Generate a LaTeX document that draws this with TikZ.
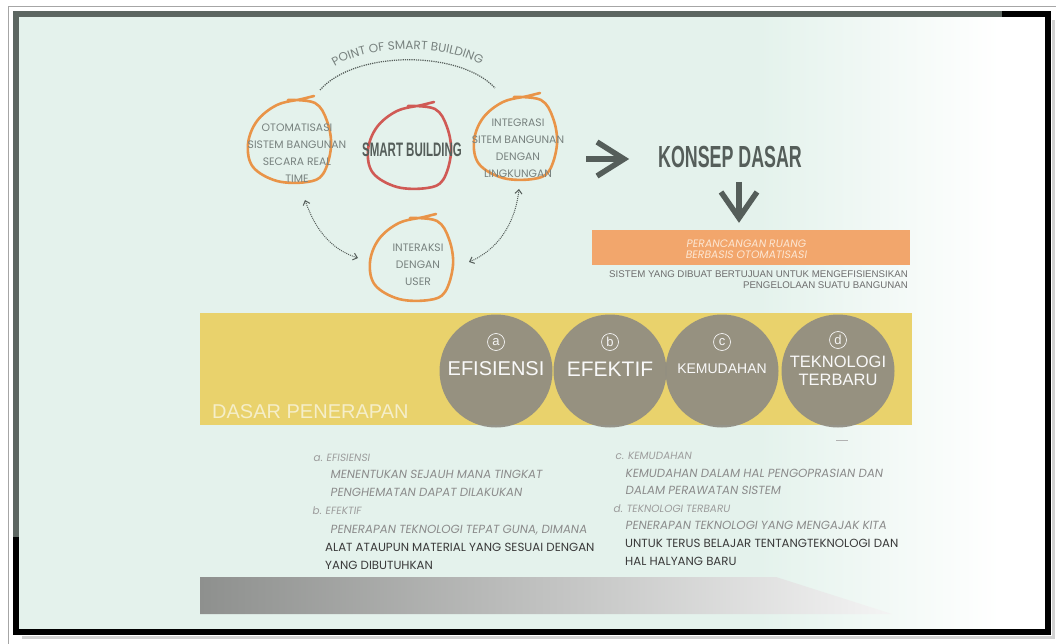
\documentclass[tikz,border=0pt]{standalone}
\usepackage{fontspec}
\usepackage{graphicx}
\setmainfont{Liberation Sans}
\newfontfamily\hand{Poppins}
\newfontfamily\handsl[FakeSlant=0.15]{Poppins}
\usetikzlibrary{arrows.meta,decorations.text}
\definecolor{mint}{HTML}{E4F2EC}
\definecolor{frameg}{HTML}{5C6661}
\definecolor{loopor}{HTML}{E99448}
\definecolor{loopred}{HTML}{D05A55}
\definecolor{looptxt}{HTML}{78827F}
\definecolor{dk}{HTML}{555E5A}
\definecolor{bandor}{HTML}{F2A66C}
\definecolor{bandtxt}{HTML}{FCE6D2}
\definecolor{yel}{HTML}{E9D26C}
\definecolor{gcirc}{HTML}{8F8C82}
\definecolor{cream}{HTML}{F5EEC9}
\definecolor{txtg}{HTML}{8C8C8C}
\definecolor{txtd}{HTML}{3A3A3A}
\definecolor{sysg}{HTML}{6E6E6E}
\definecolor{barL}{HTML}{8E908E}
\definecolor{barM}{HTML}{A9AAA8}
\definecolor{barR}{HTML}{F4F4F4}
\begin{document}
\begin{tikzpicture}[x=1pt,y=-1pt,
  handloop/.pic={\draw[line width=2.6pt,line cap=round,line join=round,pic actions]
     plot[smooth,tension=0.6] coordinates {(-2,-42) (25,-39) (37,-21) (41,5) (33,32) (17,40) (-13,39) (-37,25) (-42,2) (-33,-21) (-13,-37) (12,-43) (24,-46)};},
  looptext/.style={font=\hand\fontsize{10.8}{17}\selectfont,align=center,text=looptxt,inner sep=0pt},
  dotarrow/.style={densely dotted,line width=1pt,draw=dk,{Straight Barb[length=4pt,width=7pt]}-{Straight Barb[length=4pt,width=7pt]}},
  bigarr/.style={line width=5.5pt,draw=dk,line join=miter},
  gc/.style={circle,fill=gcirc,fill opacity=0.92,minimum size=113pt,inner sep=0pt},
  glab/.style={circle,draw=white!92!gray,line width=0.7pt,minimum size=17pt,inner sep=0pt,font=\fontsize{13}{13}\selectfont,text=white!92!gray},
  gtxt/.style={text=white!95!gray,align=center,inner sep=0pt},
  bt/.style={anchor=base west,inner sep=0pt,font=\handsl\fontsize{11.8}{12}\selectfont,text=txtg},
  btd/.style={anchor=base west,inner sep=0pt,font=\hand\fontsize{11.8}{12}\selectfont,text=txtd},
  bth/.style={anchor=base west,inner sep=0pt,font=\handsl\fontsize{10.5}{10}\selectfont,text=txtg!85}
]
\useasboundingbox (0,0) rectangle (1056,644);
\fill[white] (0,0) rectangle (1056,644);
% background
\fill[mint] (19,17) rectangle (760,629);
\shade[left color=mint,right color=white] (759,17) rectangle (1000,629);
% frame
\draw[gray!35,line width=3pt] (22,637.5) -- (1053.5,637.5) -- (1053.5,20);
\draw[gray!70,line width=0.8pt] (8,644) -- (8,6) -- (1056,6);
\draw[frameg,line width=6pt] (16,540) -- (16,14) -- (1005,14);
\draw[black,line width=6pt] (1002,14) -- (1048,14) -- (1048,632) -- (16,632) -- (16,537);

% point of smart building arc
\coordinate (ptL) at (320,90);
\coordinate (ptR) at (495,88);
\draw[densely dotted,line width=1.2pt,dk] (ptL) .. controls (355,50) and (460,50) .. (ptR);
\path[decorate,decoration={text along path,text align=center,
  text={|\hand\fontsize{12}{13}\selectfont\color{looptxt}|POINT OF SMART BUILDING}}]
  (316,84) .. controls (343,38) and (472,38) .. (500,82);

% loops
\pic[draw=loopor] at (290,142) {handloop};
\pic[draw=loopred] at (410,148) {handloop};
\pic[draw=loopor] at (516,139) {handloop};
\pic[draw=loopor] at (412,260) {handloop};

\node[looptext] (otom) at (297,153) {OTOMATISASI\\SISTEM BANGUNAN\\SECARA REAL\\TIME};
\node[looptext] (integ) at (518,148) {INTEGRASI\\SITEM BANGUNAN\\DENGAN\\LINGKUNGAN};
\node[looptext] (inter) at (418,265) {INTERAKSI\\DENGAN\\USER};
\node[font=\bfseries\fontsize{19.5}{20}\selectfont,text=dk,inner sep=0pt] (sb) at (412,150) {\scalebox{0.59}[1]{SMART BUILDING}};

% dotted connectors
\coordinate (da1) at (305,200);
\coordinate (da2) at (358,258);
\coordinate (da3) at (519,189);
\coordinate (da4) at (469,262);
\draw[dotarrow] (da1) .. controls (316,232) and (333,250) .. (da2);
\draw[dotarrow] (da3) .. controls (515,225) and (497,250) .. (da4);

% konsep dasar
\node[font=\bfseries\fontsize{30.5}{31}\selectfont,text=dk,inner sep=0pt] (kd) at (730,157) {\scalebox{0.585}[1]{KONSEP DASAR}};
\coordinate (a1s) at (586,159);
\coordinate (a1e) at (624,159);
\draw[bigarr] (a1s) -- (a1e);
\draw[bigarr] (597,142) -- (a1e) -- (597,176);
\coordinate (a2s) at (739,182);
\coordinate (a2e) at (739,218);
\draw[bigarr] (a2s) -- (a2e);
\draw[bigarr] (721,192) -- (a2e) -- (757,192);

% orange bar
\node[fill=bandor,minimum width=318pt,minimum height=35pt,inner sep=0pt] (orb) at (751,247.5) {};
\node[font=\handsl\fontsize{10.8}{11}\selectfont,text=bandtxt,align=center,inner sep=0pt] (ort) at (746,249) {PERANCANGAN RUANG\\BERBASIS OTOMATISASI};
\node[anchor=north east,align=right,font=\fontsize{9.7}{10.3}\selectfont,text=sysg,inner sep=0pt] (sys) at (908,271) {SISTEM YANG DIBUAT BERTUJUAN UNTUK MENGEFISIENSIKAN\\PENGELOLAAN SUATU BANGUNAN};

% yellow band
\fill[yel] (200,313) rectangle (912,425);
\node[anchor=base west,font=\fontsize{20}{22}\selectfont,text=cream,inner sep=0pt] (dp) at (212,418) {DASAR PENERAPAN};

\node[gc] (ca) at (496,371) {};
\node[gc] (cb) at (610,371) {};
\node[gc] (cc) at (722,371) {};
\node[gc] (cd) at (838,371) {};
\node[glab] (la) at (496,342) {a};
\node[glab] (lb) at (610,342) {b};
\node[glab] (lc) at (722,342) {c};
\node[glab] (ld) at (838,340) {d};
\node[gtxt,font=\fontsize{20}{22}\selectfont] at (496,369) {EFISIENSI};
\node[gtxt,font=\fontsize{21}{22}\selectfont] at (610,369) {EFEKTIF};
\node[gtxt,font=\fontsize{14}{16}\selectfont] at (722,369) {KEMUDAHAN};
\node[gtxt,font=\fontsize{16.5}{18}\selectfont] at (838,371) {TEKNOLOGI\\TERBARU};

\draw[line width=1pt,draw=gray!60] (836,440) -- (848,440);

% bottom text
\node[bth] (ta) at (313,461) {a. EFISIENSI};
\node[bt] at (330,478) {MENENTUKAN SEJAUH MANA TINGKAT};
\node[bt] at (330,496) {PENGHEMATAN DAPAT DILAKUKAN};
\node[bth] (tb) at (312,514) {b. EFEKTIF};
\node[bt] at (330,533) {PENERAPAN TEKNOLOGI TEPAT GUNA, DIMANA};
\node[btd] at (325,551) {ALAT ATAUPUN MATERIAL YANG SESUAI DENGAN};
\node[btd] at (325,569) {YANG DIBUTUHKAN};

\node[bth] (tc) at (615,459) {c. KEMUDAHAN};
\node[bt] at (625,477) {KEMUDAHAN DALAM HAL PENGOPRASIAN DAN};
\node[bt] at (625,494) {DALAM PERAWATAN SISTEM};
\node[bth] (td) at (613,512) {d. TEKNOLOGI TERBARU};
\node[bt] at (625,529) {PENERAPAN TEKNOLOGI YANG MENGAJAK KITA};
\node[btd] at (625,547) {UNTUK TERUS BELAJAR TENTANGTEKNOLOGI DAN};
\node[btd] at (625,565) {HAL HALYANG BARU};

% bottom bar
\shade[left color=barL,middle color=barM,right color=barR] (200,577) -- (776,577) -- (892,614) -- (200,614) -- cycle;
\end{tikzpicture}
\end{document}
